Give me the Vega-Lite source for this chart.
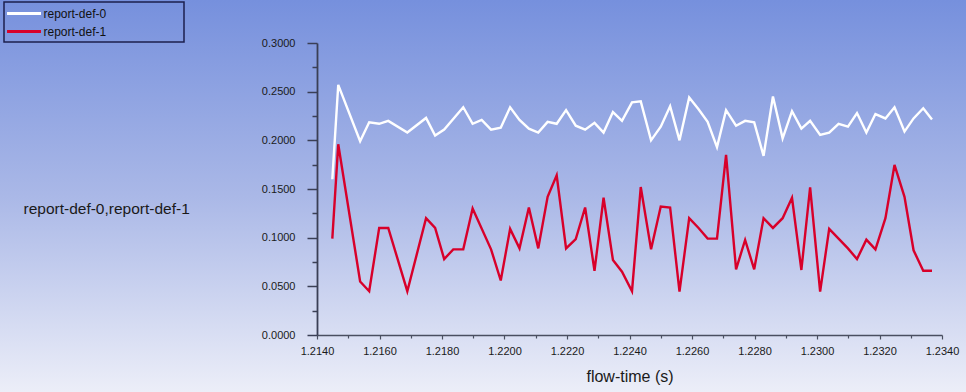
{
  "$schema": "https://vega.github.io/schema/vega-lite/v6.json",
  "width": 966,
  "height": 392,
  "autosize": "none",
  "padding": 0,
  "background": "#aab8e7",
  "data": {"values": [
    {"t":1.21449,"v":0.160,"s":"report-def-0"},
    {"t":1.21468,"v":0.257,"s":"report-def-0"},
    {"t":1.21538,"v":0.199,"s":"report-def-0"},
    {"t":1.21567,"v":0.2185,"s":"report-def-0"},
    {"t":1.21599,"v":0.217,"s":"report-def-0"},
    {"t":1.21628,"v":0.220,"s":"report-def-0"},
    {"t":1.21689,"v":0.208,"s":"report-def-0"},
    {"t":1.21749,"v":0.223,"s":"report-def-0"},
    {"t":1.21778,"v":0.205,"s":"report-def-0"},
    {"t":1.21807,"v":0.211,"s":"report-def-0"},
    {"t":1.21868,"v":0.234,"s":"report-def-0"},
    {"t":1.21898,"v":0.217,"s":"report-def-0"},
    {"t":1.21927,"v":0.221,"s":"report-def-0"},
    {"t":1.21957,"v":0.211,"s":"report-def-0"},
    {"t":1.21988,"v":0.213,"s":"report-def-0"},
    {"t":1.22018,"v":0.234,"s":"report-def-0"},
    {"t":1.22048,"v":0.221,"s":"report-def-0"},
    {"t":1.22078,"v":0.212,"s":"report-def-0"},
    {"t":1.22108,"v":0.208,"s":"report-def-0"},
    {"t":1.22138,"v":0.219,"s":"report-def-0"},
    {"t":1.22167,"v":0.217,"s":"report-def-0"},
    {"t":1.22197,"v":0.231,"s":"report-def-0"},
    {"t":1.22228,"v":0.215,"s":"report-def-0"},
    {"t":1.22258,"v":0.211,"s":"report-def-0"},
    {"t":1.22288,"v":0.218,"s":"report-def-0"},
    {"t":1.22317,"v":0.208,"s":"report-def-0"},
    {"t":1.22347,"v":0.229,"s":"report-def-0"},
    {"t":1.22376,"v":0.220,"s":"report-def-0"},
    {"t":1.22408,"v":0.239,"s":"report-def-0"},
    {"t":1.22436,"v":0.240,"s":"report-def-0"},
    {"t":1.22469,"v":0.200,"s":"report-def-0"},
    {"t":1.22500,"v":0.214,"s":"report-def-0"},
    {"t":1.22530,"v":0.235,"s":"report-def-0"},
    {"t":1.22560,"v":0.200,"s":"report-def-0"},
    {"t":1.22591,"v":0.244,"s":"report-def-0"},
    {"t":1.22621,"v":0.232,"s":"report-def-0"},
    {"t":1.22650,"v":0.219,"s":"report-def-0"},
    {"t":1.22680,"v":0.193,"s":"report-def-0"},
    {"t":1.22709,"v":0.231,"s":"report-def-0"},
    {"t":1.22741,"v":0.215,"s":"report-def-0"},
    {"t":1.22770,"v":0.220,"s":"report-def-0"},
    {"t":1.22799,"v":0.2185,"s":"report-def-0"},
    {"t":1.22829,"v":0.184,"s":"report-def-0"},
    {"t":1.22859,"v":0.245,"s":"report-def-0"},
    {"t":1.22890,"v":0.202,"s":"report-def-0"},
    {"t":1.22920,"v":0.230,"s":"report-def-0"},
    {"t":1.22950,"v":0.212,"s":"report-def-0"},
    {"t":1.22978,"v":0.220,"s":"report-def-0"},
    {"t":1.23010,"v":0.2055,"s":"report-def-0"},
    {"t":1.23039,"v":0.208,"s":"report-def-0"},
    {"t":1.23069,"v":0.217,"s":"report-def-0"},
    {"t":1.23099,"v":0.214,"s":"report-def-0"},
    {"t":1.23128,"v":0.228,"s":"report-def-0"},
    {"t":1.23158,"v":0.208,"s":"report-def-0"},
    {"t":1.23187,"v":0.227,"s":"report-def-0"},
    {"t":1.23219,"v":0.2225,"s":"report-def-0"},
    {"t":1.23248,"v":0.234,"s":"report-def-0"},
    {"t":1.23280,"v":0.209,"s":"report-def-0"},
    {"t":1.23309,"v":0.2225,"s":"report-def-0"},
    {"t":1.23340,"v":0.233,"s":"report-def-0"},
    {"t":1.23368,"v":0.2215,"s":"report-def-0"},
    {"t":1.21449,"v":0.099,"s":"report-def-1"},
    {"t":1.21468,"v":0.196,"s":"report-def-1"},
    {"t":1.21538,"v":0.055,"s":"report-def-1"},
    {"t":1.21567,"v":0.045,"s":"report-def-1"},
    {"t":1.21599,"v":0.110,"s":"report-def-1"},
    {"t":1.21628,"v":0.110,"s":"report-def-1"},
    {"t":1.21689,"v":0.045,"s":"report-def-1"},
    {"t":1.21749,"v":0.120,"s":"report-def-1"},
    {"t":1.21778,"v":0.110,"s":"report-def-1"},
    {"t":1.21807,"v":0.078,"s":"report-def-1"},
    {"t":1.21836,"v":0.088,"s":"report-def-1"},
    {"t":1.21868,"v":0.088,"s":"report-def-1"},
    {"t":1.21898,"v":0.130,"s":"report-def-1"},
    {"t":1.21957,"v":0.088,"s":"report-def-1"},
    {"t":1.21988,"v":0.056,"s":"report-def-1"},
    {"t":1.22018,"v":0.109,"s":"report-def-1"},
    {"t":1.22048,"v":0.089,"s":"report-def-1"},
    {"t":1.22078,"v":0.131,"s":"report-def-1"},
    {"t":1.22108,"v":0.089,"s":"report-def-1"},
    {"t":1.22138,"v":0.142,"s":"report-def-1"},
    {"t":1.22167,"v":0.164,"s":"report-def-1"},
    {"t":1.22197,"v":0.089,"s":"report-def-1"},
    {"t":1.22228,"v":0.0986,"s":"report-def-1"},
    {"t":1.22258,"v":0.131,"s":"report-def-1"},
    {"t":1.22288,"v":0.066,"s":"report-def-1"},
    {"t":1.22317,"v":0.141,"s":"report-def-1"},
    {"t":1.22347,"v":0.077,"s":"report-def-1"},
    {"t":1.22376,"v":0.065,"s":"report-def-1"},
    {"t":1.22408,"v":0.045,"s":"report-def-1"},
    {"t":1.22436,"v":0.152,"s":"report-def-1"},
    {"t":1.22469,"v":0.088,"s":"report-def-1"},
    {"t":1.22500,"v":0.132,"s":"report-def-1"},
    {"t":1.22530,"v":0.131,"s":"report-def-1"},
    {"t":1.22560,"v":0.0445,"s":"report-def-1"},
    {"t":1.22591,"v":0.120,"s":"report-def-1"},
    {"t":1.22621,"v":0.110,"s":"report-def-1"},
    {"t":1.22650,"v":0.099,"s":"report-def-1"},
    {"t":1.22680,"v":0.099,"s":"report-def-1"},
    {"t":1.22709,"v":0.185,"s":"report-def-1"},
    {"t":1.22741,"v":0.0675,"s":"report-def-1"},
    {"t":1.22770,"v":0.0976,"s":"report-def-1"},
    {"t":1.22799,"v":0.0675,"s":"report-def-1"},
    {"t":1.22829,"v":0.120,"s":"report-def-1"},
    {"t":1.22859,"v":0.110,"s":"report-def-1"},
    {"t":1.22890,"v":0.120,"s":"report-def-1"},
    {"t":1.22920,"v":0.141,"s":"report-def-1"},
    {"t":1.22950,"v":0.0668,"s":"report-def-1"},
    {"t":1.22978,"v":0.1517,"s":"report-def-1"},
    {"t":1.23010,"v":0.0445,"s":"report-def-1"},
    {"t":1.23039,"v":0.109,"s":"report-def-1"},
    {"t":1.23069,"v":0.099,"s":"report-def-1"},
    {"t":1.23099,"v":0.089,"s":"report-def-1"},
    {"t":1.23128,"v":0.078,"s":"report-def-1"},
    {"t":1.23158,"v":0.098,"s":"report-def-1"},
    {"t":1.23187,"v":0.088,"s":"report-def-1"},
    {"t":1.23219,"v":0.120,"s":"report-def-1"},
    {"t":1.23248,"v":0.1747,"s":"report-def-1"},
    {"t":1.23280,"v":0.142,"s":"report-def-1"},
    {"t":1.23309,"v":0.087,"s":"report-def-1"},
    {"t":1.23340,"v":0.066,"s":"report-def-1"},
    {"t":1.23368,"v":0.066,"s":"report-def-1"}
  ]},
  "mark": {"type": "line", "strokeWidth": 2.4, "interpolate": "linear", "clip": false},
  "encoding": {
    "x": {
      "field": "t", "type": "quantitative",
      "scale": {"domain": [1.214, 1.234], "range": [317, 942], "nice": false, "zero": false},
      "axis": {
        "orient": "bottom",
        "offset": -57,
        "title": "flow-time (s)",
        "titleFontSize": 16,
        "titleFontWeight": "normal",
        "titleColor": "#1a1a1a",
        "titleFont": "Liberation Sans",
        "titleBaseline": "middle",
        "titleY": 41,
        "values": [1.214,1.215,1.216,1.217,1.218,1.219,1.22,1.221,1.222,1.223,1.224,1.225,1.226,1.227,1.228,1.229,1.23,1.231,1.232,1.233,1.234],
        "format": ".4f",
        "labelExpr": "round(datum.value*10000) % 20 == 0 ? datum.label : ''",
        "labelFlush": false,
        "labelOverlap": false,
        "labelFont": "Liberation Sans",
        "labelFontSize": 11,
        "labelColor": "#1a1a1a",
        "labelPadding": 6,
        "tickSize": {"condition": {"test": "round(datum.value*10000) % 20 == 0", "value": 4}, "value": 3},
        "tickColor": "#4a4f60",
        "tickWidth": 1.2,
        "domainColor": "#4a4f60",
        "domainWidth": 1.5,
        "grid": false
      }
    },
    "y": {
      "field": "v", "type": "quantitative",
      "scale": {"domain": [0, 0.3], "range": [335, 43], "nice": false, "zero": false},
      "axis": {
        "orient": "left",
        "offset": -317,
        "title": "report-def-0,report-def-1",
        "titleAngle": 0,
        "titleAlign": "left",
        "titleBaseline": "middle",
        "titleX": -294,
        "titleY": 208,
        "titleFontSize": 15.5,
        "titleFontWeight": "normal",
        "titleColor": "#1a1a1a",
        "titleFont": "Liberation Sans",
        "values": [0,0.025,0.05,0.075,0.1,0.125,0.15,0.175,0.2,0.225,0.25,0.275,0.3],
        "format": ".4f",
        "labelExpr": "round(datum.value*1000) % 50 == 0 ? datum.label : ''",
        "labelOverlap": false,
        "labelFlush": false,
        "labelFont": "Liberation Sans",
        "labelFontSize": 11,
        "labelColor": "#1a1a1a",
        "labelPadding": 12,
        "tickSize": {"condition": {"test": "round(datum.value*1000) % 50 == 0", "value": 10}, "value": 5},
        "tickColor": "#3a3f55",
        "tickWidth": 1.5,
        "domainColor": "#3a3f55",
        "domainWidth": 1.8,
        "grid": false
      }
    },
    "color": {
      "field": "s", "type": "nominal",
      "scale": {"domain": ["report-def-0", "report-def-1"], "range": ["#ffffff", "#d8002a"]},
      "legend": {
        "title": null,
        "orient": "none",
        "legendX": 4,
        "legendY": 2,
        "padding": 4,
        "strokeColor": "#1c1f4d",
        "symbolType": "M-3,0H3",
        "symbolSize": 128,
        "symbolStrokeWidth": 3,
        "symbolOffset": 8.5,
        "labelOffset": 12,
        "rowPadding": 4,
        "labelFont": "Liberation Sans",
        "labelFontSize": 12,
        "labelColor": "#111111",
        "labelLimit": 200,
        "labelExpr": "datum.label + '\u00a0\u00a0\u00a0\u00a0\u00a0\u00a0\u00a0\u00a0\u00a0\u00a0\u00a0\u00a0\u00a0\u00a0\u00a0\u00a0\u00a0\u00a0\u00a0\u00a0\u00a0\u00a0\u200b'"
      }
    }
  },
  "config": {
    "legend": {"strokeWidth": 1.5},
    "view": {
      "stroke": null,
      "fill": {"gradient": "linear", "x1": 0, "y1": 0, "x2": 0, "y2": 1,
        "stops": [{"offset": 0, "color": "#7690dd"}, {"offset": 0.5, "color": "#aab8e7"}, {"offset": 1, "color": "#eceef8"}]}
    }
  }
}
